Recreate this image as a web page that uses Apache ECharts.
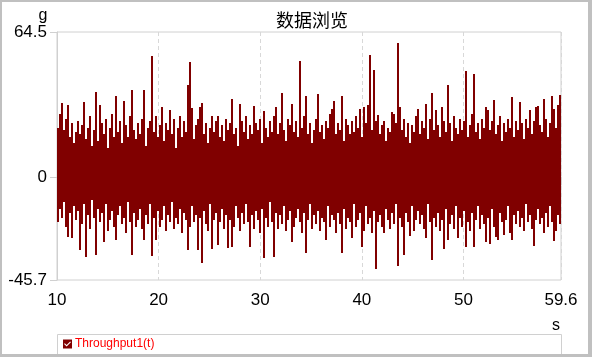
<!DOCTYPE html>
<html>
<head>
<meta charset="utf-8">
<script src="https://cdn.jsdelivr.net/npm/echarts@6/dist/echarts.min.js"></script>
<style>
html,body{margin:0;padding:0;background:#fff;}
#chart{width:592px;height:357px;}
</style>
</head>
<body>
<div id="chart"></div>
<script>
// ---- data ----
const chartTitle = '数据浏览';
const seriesName = 'Throughput1(t)';
const tStart = 10;
const tEnd = 59.6;
const xTickValues = [10, 20, 30, 40, 50, 59.6];
const yTickValues = [-45.7, 0, 64.5];
const xUnit = 's';
const yUnit = 'g';

// upper excursions (per sample column)
const hiValues = [
  22, 28, 33, 21, 26, 32, 18, 24, 15, 20,
  25, 19, 23, 33.5, 17, 22, 27, 14, 21, 38,
  16, 32, 24, 19, 26, 13, 22, 28, 18, 36,
  20, 25, 15, 34, 23, 18, 27, 38.7, 21, 17,
  24, 19, 26, 38.7, 14, 22, 25, 54, 20, 27,
  18, 23, 31, 16, 24, 21, 30, 19, 26, 13,
  22, 27, 18, 25, 20, 41, 51, 30.7, 17, 23,
  26, 31, 33, 19, 24, 15, 22, 27, 20, 25,
  27, 18, 23, 16, 26, 21, 24, 34.7, 19, 22,
  14, 32.5, 25, 20, 27, 17, 23, 19, 31.6, 24,
  21, 26, 15, 29.4, 22, 18, 25, 20, 27, 31,
  19, 24, 37.6, 21, 16, 26, 23, 32.5, 20, 25,
  18, 51.6, 22, 27, 36, 19, 24, 15, 21, 26,
  37, 20, 23, 17, 25, 22, 28, 30.5, 34, 19,
  24, 21, 36, 16, 26, 23, 19, 25, 20, 27,
  22, 30.5, 18, 31, 24, 32, 54.3, 21, 47.6, 25,
  27.6, 19, 23, 25, 16, 22, 20, 29, 28, 24,
  59.5, 31, 21, 26, 18, 24, 15, 23, 20, 27,
  30.5, 19, 25, 22, 32.5, 17, 26, 37.6, 21, 30,
  23, 18, 31, 25, 20, 41, 24, 16, 27, 22,
  19, 26, 21, 25, 47.2, 18, 23, 28, 45.9, 20,
  24, 17, 26, 22, 31, 30, 21, 25, 34.3, 19,
  23, 27, 16, 24, 20, 26, 22, 35.6, 18, 25,
  21, 33.6, 24, 17, 26, 22, 30, 19, 25, 31,
  31.6, 23, 20, 34.6, 26, 18, 24, 36, 30.5, 22,
  32, 36.5
];

// lower excursions (per sample column)
const loValues = [
  -20, -14, -18, -11, -22, -26.6, -16, -27, -13, -19,
  -15, -32.3, -21, -12, -35.5, -17, -23, -10, -18, -34.5,
  -14, -20, -16, -29, -12, -24, -19, -15, -22, -28,
  -17, -13, -21, -18, -25, -11, -20, -34.5, -16, -22,
  -19, -14, -23, -28, -17, -21, -12, -34.9, -18, -28,
  -15, -22, -19, -13, -24, -17, -20, -11, -23, -18,
  -21, -14, -25, -16, -19, -32.3, -22, -13, -20, -17,
  -32.3, -18, -38, -15, -21, -24, -12, -32, -19, -16,
  -30, -20, -14, -23, -17, -31.5, -19, -31, -22, -13,
  -18, -24, -16, -21, -12, -20, -31, -17, -23, -15,
  -19, -25, -14, -36, -18, -22, -11, -20, -35.4, -16,
  -23, -17, -21, -13, -24, -19, -15, -28.8, -22, -18,
  -14, -20, -25, -16, -33.8, -19, -12, -23, -17, -21,
  -15, -24, -18, -20, -27.9, -13, -22, -17, -19, -25,
  -16, -21, -33.8, -14, -23, -18, -20, -27, -12, -22,
  -19, -16, -31, -24, -13, -21, -18, -25, -15, -40.8,
  -20, -17, -22, -24.6, -14, -19, -23, -16, -21, -12,
  -39.5, -18, -22, -34.6, -16, -20, -26, -13, -24, -19,
  -15, -21, -17, -23, -27, -12, -20, -36.8, -18, -22,
  -16, -24, -19, -32, -14, -28, -21, -17, -23, -13,
  -27, -18, -22, -15, -30.9, -20, -24, -16, -30.9, -19,
  -13, -23, -17, -21, -29, -18, -29.7, -14, -22, -26.5,
  -28, -16, -20, -25.5, -19, -13, -25, -28, -17, -21,
  -15, -22, -18, -24, -12, -20, -17, -23, -30.6, -19,
  -14, -21, -18, -25, -16, -22, -13, -20, -28.5, -24,
  -17, -21
];

// ---- build series (time axis from sample index) ----
const step = (tEnd - tStart) / hiValues.length;
const seriesData = [];
for (let i = 0; i < hiValues.length; i++) {
  seriesData.push([tStart + i * step, hiValues[i], loValues[i]]);
}

const axisGray = '#d0d0d0';
const fontFam = '"Liberation Sans", Arial, sans-serif';
const signalColor = '#800000';

function renderColumn(params, api) {
  const t = api.value(0);
  const pTop = api.coord([t, api.value(1)]);
  const pBot = api.coord([t, api.value(2)]);
  const pNext = api.coord([t + step, api.value(1)]);
  const x0 = Math.round(pTop[0]);
  const x1 = Math.round(pNext[0]);
  const y0 = Math.round(pTop[1]);
  const y1 = Math.round(pBot[1]);
  return {
    type: 'rect',
    shape: {x: x0, y: y0, width: Math.max(1, x1 - x0), height: y1 - y0},
    style: {fill: signalColor}
  };
}

const chart = echarts.init(document.getElementById('chart'), null, {renderer: 'canvas'});
chart.setOption({
  animation: false,
  backgroundColor: '#ffffff',
  title: {
    text: chartTitle,
    left: 271,
    top: 6,
    textStyle: {fontSize: 18, fontWeight: 'normal', color: '#000', fontFamily: '"Noto Sans CJK SC", sans-serif'}
  },
  legend: {
    left: 63,
    top: 338,
    padding: 0,
    itemWidth: 9,
    itemHeight: 9,
    itemGap: 10,
    icon: 'path://M0 0L10 0L10 10L0 10Z M4 7.8L8.8 3L8 2.2L4 6.2L2 4.2L1.2 5Z',
    textStyle: {color: '#ff0000', fontSize: 12, fontFamily: fontFam, padding: [0, 0, 0, -2]},
    data: [{name: seriesName, itemStyle: {color: signalColor}}]
  },
  grid: {
    left: 57, right: 31, top: 32, bottom: 77,
    show: true, borderColor: axisGray, borderWidth: 1, backgroundColor: 'transparent'
  },
  xAxis: {
    type: 'value',
    min: tStart,
    max: tEnd,
    interval: 10,
    axisLine: {show: true, lineStyle: {color: axisGray}},
    axisTick: {show: true, length: 8, lineStyle: {color: axisGray}, customValues: xTickValues},
    axisLabel: {show: true, margin: 12, fontSize: 17, color: '#000', fontFamily: fontFam, customValues: xTickValues,
      showMinLabel: true, showMaxLabel: true},
    splitLine: {show: true, lineStyle: {color: '#d8d8d8', type: [4, 3], width: 1}}
  },
  yAxis: {
    type: 'value',
    min: -45.7,
    max: 64.5,
    name: yUnit,
    nameLocation: 'end',
    nameGap: 7,
    nameTextStyle: {fontSize: 16, color: '#000', fontFamily: fontFam, align: 'center', verticalAlign: 'bottom', padding: [0, 28, 0, 0]},
    axisLine: {show: true, lineStyle: {color: axisGray}},
    axisTick: {show: true, length: 7, lineStyle: {color: axisGray}, customValues: yTickValues},
    axisLabel: {show: true, margin: 10, fontSize: 17, color: '#000', fontFamily: fontFam, customValues: yTickValues,
      showMinLabel: true, showMaxLabel: true},
    splitLine: {show: false}
  },
  graphic: [
    {type: 'text', silent: true, style: {text: xUnit, x: 556, y: 326, align: 'center', verticalAlign: 'middle', fontSize: 16, fontFamily: fontFam, fill: '#000'}},
    {type: 'rect', shape: {x: 57.5, y: 334.5, width: 504, height: 20}, style: {fill: 'none', stroke: axisGray, lineWidth: 1}, silent: true},
    {type: 'rect', shape: {x: 0, y: 0, width: 2, height: 357}, style: {fill: '#c0c0c0'}, silent: true},
    {type: 'rect', shape: {x: 0, y: 0, width: 592, height: 2}, style: {fill: '#c0c0c0'}, silent: true},
    {type: 'rect', shape: {x: 588, y: 0, width: 4, height: 357}, style: {fill: '#c0c0c0'}, silent: true},
    {type: 'rect', shape: {x: 0, y: 354, width: 592, height: 3}, style: {fill: '#c0c0c0'}, silent: true}
  ],
  series: [{
    name: seriesName,
    type: 'custom',
    renderItem: renderColumn,
    data: seriesData,
    encode: {x: 0, y: [1, 2]},
    clip: true,
    itemStyle: {color: signalColor},
    emphasis: {disabled: true}
  }]
});
</script>
</body>
</html>
